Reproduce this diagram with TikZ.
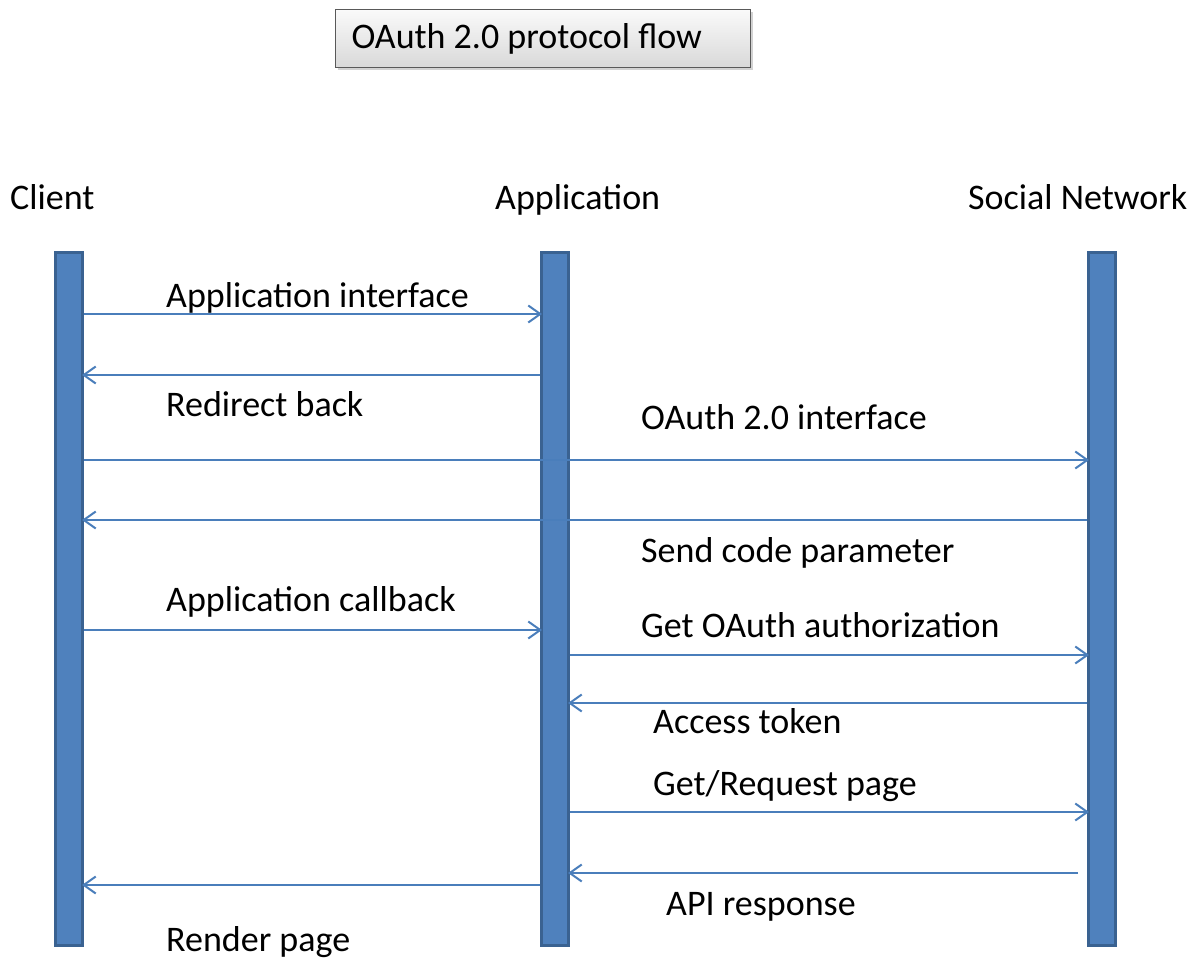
\documentclass[tikz,border=0pt]{standalone}
\usepackage{fontspec}
\setmainfont{Carlito}
\usetikzlibrary{arrows.meta,shadows}
\definecolor{barfill}{HTML}{4F81BD}
\definecolor{barline}{HTML}{3A6291}
\definecolor{msgcol}{HTML}{4A7EBB}
\tikzset{
  lifebar/.style={draw=barline,fill=barfill,line width=3pt,minimum width=27pt,minimum height=693pt,inner sep=0pt},
  msg/.style={draw=msgcol,line width=2pt,shorten >=-2pt,-{Straight Barb[length=12pt,width=17pt]}},
  lbl/.style={anchor=base west,inner sep=0pt,font=\fontsize{36}{40}\selectfont},
  titlebox/.style={draw=black!65,line width=1pt,top color=gray!4,bottom color=gray!30,
    drop shadow={shadow xshift=2pt,shadow yshift=-2pt,fill=gray!70},
    anchor=north west,minimum height=58pt,text width=383pt,inner xsep=16pt,align=flush left,
    font=\fontsize{36}{40}\selectfont}
}
\begin{document}
\begin{tikzpicture}[x=1pt,y=-1pt]
\useasboundingbox (0,0) rectangle (1201,961);
%Title
\node[titlebox] (title) at (335,9) {OAuth 2.0 protocol flow};
%Lifelines
\node[lbl] (clienthd) at (10,209) {Client};
\node[lbl] (apphd) at (495,209) {Application};
\node[lbl] (socialhd) at (968,209) {Social Network};
\node[lifebar] (client) at (69,599) {};
\node[lifebar] (app) at (555,599) {};
\node[lifebar] (social) at (1102,599) {};
%Messages
\coordinate (apiout) at (1078,873);
\draw[msg] (client.east |- 0,314) -- (app.west |- 0,314);
\draw[msg] (app.west |- 0,375) -- (client.east |- 0,375);
\draw[msg] (client.east |- 0,460) -- (social.west |- 0,460);
\draw[msg] (social.west |- 0,520) -- (client.east |- 0,520);
\draw[msg] (client.east |- 0,630) -- (app.west |- 0,630);
\draw[msg] (app.east |- 0,655) -- (social.west |- 0,655);
\draw[msg] (social.west |- 0,703) -- (app.east |- 0,703);
\draw[msg] (app.east |- 0,812) -- (social.west |- 0,812);
\draw[msg] (apiout) -- (app.east |- apiout);
\draw[msg] (app.west |- 0,885) -- (client.east |- 0,885);
%Labels
\node[lbl] (appif) at (166,307) {Application interface};
\node[lbl] (redir) at (166,416) {Redirect back};
\node[lbl] (oauthif) at (641,429) {OAuth 2.0 interface};
\node[lbl] (sendcode) at (641,562) {Send code parameter};
\node[lbl] (appcb) at (166,611) {Application callback};
\node[lbl] (getauth) at (641,637) {Get OAuth authorization};
\node[lbl] (token) at (653,733) {Access token};
\node[lbl] (getpage) at (653,795) {Get/Request page};
\node[lbl] (apiresp) at (666,915) {API response};
\node[lbl] (render) at (166,951) {Render page};
\end{tikzpicture}
\end{document}
